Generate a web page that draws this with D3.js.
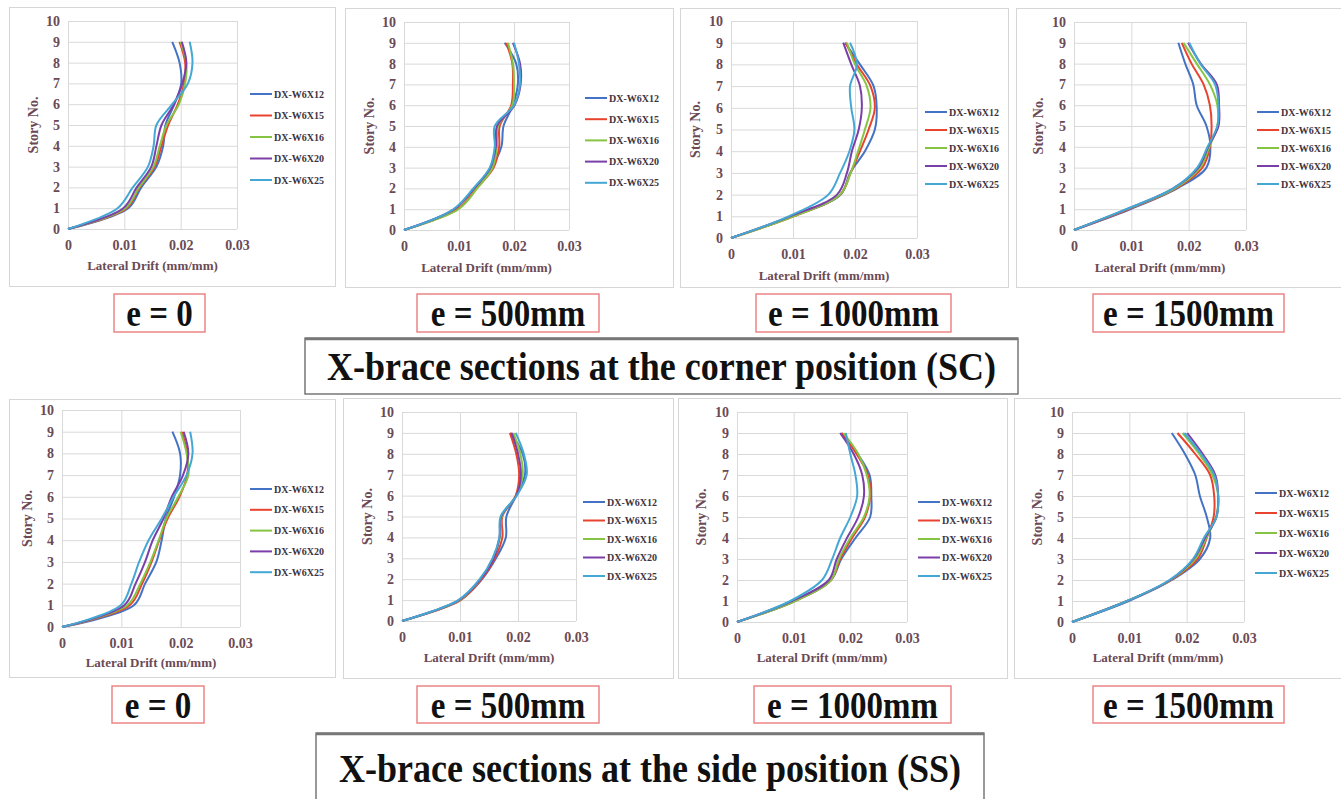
<!DOCTYPE html>
<html lang="en">
<head>
  <meta charset="UTF-8">
  <title>Lateral drift of X-brace sections</title>
  <style>
    body {
      margin: 0;
      background: #fff;
    }
    svg text {
      font-family: "Liberation Serif", "Times New Roman", serif;
      font-weight: bold;
    }
    .tick text { fill: #6b4a55; font-size: 14px; }
    .axis-title { fill: #6b4a55; font-size: 13px; }
    .axis-title.y { font-size: 14px; }
    .legend text { fill: #3d3340; font-size: 10px; }
    .case-label { fill: #111; font-size: 33px; }
    .group-title { fill: #111; font-size: 36px; }
  </style>
</head>
<body>
  <div id="chart"></div>

  <script src="https://d3js.org/d3.v7.min.js"></script>
  <script>
    const width = 1341;
    const height = 799;

    const stories = [0, 1, 2, 3, 4, 5, 6, 7, 8, 9];
    const seriesNames = ["DX-W6X12", "DX-W6X15", "DX-W6X16", "DX-W6X20", "DX-W6X25"];
    const seriesColors = ["#4472c4", "#e8432e", "#86c443", "#7a3fa8", "#45a8d4"];
    const xTicks = [0, 0.01, 0.02, 0.03];
    const yTicks = [0, 1, 2, 3, 4, 5, 6, 7, 8, 9, 10];
    const caseLabels = ["e = 0", "e = 500mm", "e = 1000mm", "e = 1500mm"];
    const groupTitles = ["X-brace sections at the corner position (SC)", "X-brace sections at the side position (SS)"];

    // drift (mm/mm) at story 0..9, one row per section
    const scE0 = [
      [0, 0.0107, 0.0130, 0.0157, 0.0169, 0.0173, 0.0189, 0.0201, 0.0198, 0.0185],
      [0, 0.0104, 0.0127, 0.0154, 0.0166, 0.0178, 0.0195, 0.0206, 0.0208, 0.0198],
      [0, 0.0102, 0.0126, 0.0152, 0.0163, 0.0175, 0.0197, 0.0208, 0.0210, 0.0200],
      [0, 0.0098, 0.0122, 0.0148, 0.0157, 0.0166, 0.0188, 0.0203, 0.0210, 0.0202],
      [0, 0.0088, 0.0115, 0.0142, 0.0152, 0.0157, 0.0185, 0.0213, 0.0221, 0.0216]
    ];
    const scE500 = [
      [0, 0.0091, 0.0128, 0.0159, 0.0177, 0.0181, 0.0198, 0.0207, 0.0204, 0.0183],
      [0, 0.0097, 0.0132, 0.0163, 0.0173, 0.0174, 0.0195, 0.0198, 0.0197, 0.0186],
      [0, 0.0099, 0.0133, 0.0161, 0.0169, 0.0171, 0.0197, 0.0200, 0.0198, 0.0189],
      [0, 0.0091, 0.0127, 0.0157, 0.0167, 0.0169, 0.0201, 0.0212, 0.0211, 0.0198],
      [0, 0.0090, 0.0126, 0.0156, 0.0165, 0.0165, 0.0200, 0.0211, 0.0209, 0.0200]
    ];
    const scE1000 = [
      [0, 0.0099, 0.0177, 0.0192, 0.0216, 0.0232, 0.0235, 0.0230, 0.0208, 0.0184],
      [0, 0.0101, 0.0176, 0.0193, 0.0208, 0.0222, 0.0232, 0.0225, 0.0203, 0.0185],
      [0, 0.0101, 0.0176, 0.0193, 0.0205, 0.0216, 0.0225, 0.0219, 0.0200, 0.0187],
      [0, 0.0095, 0.0171, 0.0187, 0.0195, 0.0206, 0.0211, 0.0208, 0.0194, 0.0181],
      [0, 0.0093, 0.0157, 0.0176, 0.0191, 0.0199, 0.0194, 0.0192, 0.0203, 0.0192]
    ];
    const scE1500 = [
      [0, 0.0098, 0.0180, 0.0231, 0.0238, 0.0231, 0.0214, 0.0208, 0.0194, 0.0182],
      [0, 0.0095, 0.0178, 0.0224, 0.0237, 0.0240, 0.0237, 0.0226, 0.0205, 0.0188],
      [0, 0.0093, 0.0176, 0.0220, 0.0236, 0.0250, 0.0250, 0.0237, 0.0214, 0.0191],
      [0, 0.0092, 0.0173, 0.0217, 0.0234, 0.0252, 0.0253, 0.0249, 0.0221, 0.0199],
      [0, 0.0091, 0.0173, 0.0215, 0.0233, 0.0250, 0.0252, 0.0246, 0.0220, 0.0201]
    ];
    const ssE0 = [
      [0, 0.0121, 0.0140, 0.0159, 0.0168, 0.0175, 0.0189, 0.0199, 0.0199, 0.0186],
      [0, 0.0114, 0.0135, 0.0151, 0.0164, 0.0178, 0.0198, 0.0211, 0.0211, 0.0202],
      [0, 0.0110, 0.0132, 0.0149, 0.0163, 0.0176, 0.0196, 0.0213, 0.0210, 0.0200],
      [0, 0.0105, 0.0124, 0.0140, 0.0153, 0.0171, 0.0185, 0.0204, 0.0213, 0.0205],
      [0, 0.0099, 0.0117, 0.0130, 0.0146, 0.0168, 0.0188, 0.0210, 0.0220, 0.0216]
    ];
    const ssE500 = [
      [0, 0.0100, 0.0138, 0.0162, 0.0179, 0.0180, 0.0197, 0.0212, 0.0208, 0.0187],
      [0, 0.0101, 0.0137, 0.0160, 0.0173, 0.0173, 0.0196, 0.0202, 0.0197, 0.0186],
      [0, 0.0099, 0.0135, 0.0157, 0.0169, 0.0172, 0.0197, 0.0208, 0.0204, 0.0192],
      [0, 0.0098, 0.0135, 0.0158, 0.0168, 0.0171, 0.0197, 0.0205, 0.0200, 0.0189],
      [0, 0.0097, 0.0134, 0.0156, 0.0168, 0.0170, 0.0198, 0.0215, 0.0210, 0.0196]
    ];
    const ssE1000 = [
      [0, 0.0102, 0.0166, 0.0184, 0.0209, 0.0235, 0.0237, 0.0234, 0.0213, 0.0184],
      [0, 0.0102, 0.0166, 0.0182, 0.0203, 0.0226, 0.0235, 0.0231, 0.0211, 0.0185],
      [0, 0.0103, 0.0166, 0.0180, 0.0200, 0.0224, 0.0234, 0.0229, 0.0214, 0.0188],
      [0, 0.0097, 0.0162, 0.0176, 0.0194, 0.0214, 0.0224, 0.0221, 0.0206, 0.0182],
      [0, 0.0094, 0.0150, 0.0168, 0.0182, 0.0200, 0.0212, 0.0209, 0.0200, 0.0192]
    ];
    const ssE1500 = [
      [0, 0.0099, 0.0174, 0.0223, 0.0241, 0.0235, 0.0223, 0.0215, 0.0197, 0.0174],
      [0, 0.0096, 0.0173, 0.0219, 0.0235, 0.0247, 0.0248, 0.0241, 0.0215, 0.0184],
      [0, 0.0096, 0.0172, 0.0215, 0.0234, 0.0251, 0.0255, 0.0245, 0.0222, 0.0193],
      [0, 0.0096, 0.0171, 0.0212, 0.0232, 0.0252, 0.0255, 0.0250, 0.0228, 0.0201],
      [0, 0.0096, 0.0170, 0.0211, 0.0230, 0.0252, 0.0255, 0.0248, 0.0225, 0.0196]
    ];

    // layout of the eight small charts (pixels)
    const panels = [
      { data: scE0,    box: [9, 7, 326, 279],    plot: [68, 21, 237, 229],    legend: [250, 94, 21.5],  yTitleX: 33,   xTitleY: 265 },
      { data: scE500,  box: [345, 8, 328, 279],  plot: [404, 22, 569, 230],   legend: [585, 98, 21.2],  yTitleX: 369,  xTitleY: 267 },
      { data: scE1000, box: [680, 8, 328, 279],  plot: [731, 21, 917, 238],   legend: [925, 112, 18],   yTitleX: 695,  xTitleY: 275 },
      { data: scE1500, box: [1016, 8, 330, 279], plot: [1074, 22, 1246, 230], legend: [1257, 112, 18],  yTitleX: 1038, xTitleY: 267 },
      { data: ssE0,    box: [9, 399, 326, 278],  plot: [62, 410, 240, 627],   legend: [250, 489, 20.8], yTitleX: 27,   xTitleY: 662 },
      { data: ssE500,  box: [343, 398, 330, 280], plot: [402, 412, 576, 621], legend: [583, 502, 18.5], yTitleX: 367,  xTitleY: 657 },
      { data: ssE1000, box: [678, 398, 329, 280], plot: [737, 412, 907, 622], legend: [918, 502, 18.5], yTitleX: 701,  xTitleY: 657 },
      { data: ssE1500, box: [1014, 398, 330, 280], plot: [1072, 412, 1244, 622], legend: [1255, 493, 20], yTitleX: 1037, xTitleY: 657 }
    ];
    const labelBoxes = [
      [114, 294, 91, 38], [417, 294, 182, 38], [756, 294, 195, 38], [1093, 294, 191, 38],
      [112, 686, 92, 37], [417, 686, 182, 37], [754, 686, 197, 37], [1093, 686, 191, 37]
    ];
    const titleBoxes = [[305, 338, 713, 56], [316, 733, 668, 80]];

    const svg = d3.select("#chart")
      .append("svg")
      .attr("width", width)
      .attr("height", height);

    panels.forEach((p) => {
      const g = svg.append("g");

      g.append("rect")
        .attr("x", p.box[0] + 0.5).attr("y", p.box[1] + 0.5)
        .attr("width", p.box[2]).attr("height", p.box[3])
        .attr("fill", "#fff")
        .attr("stroke", "#d6d6d6");

      const x = d3.scaleLinear().domain([0, 0.03]).range([p.plot[0], p.plot[2]]);
      const y = d3.scaleLinear().domain([0, 10]).range([p.plot[3], p.plot[1]]);

      // gridlines
      g.append("g")
        .attr("transform", `translate(0,${p.plot[3]})`)
        .call(d3.axisBottom(x).tickValues(xTicks).tickSize(-(p.plot[3] - p.plot[1])).tickFormat(""))
        .call(a => a.select(".domain").remove())
        .call(a => a.selectAll("line").attr("stroke", "#d9d9d9"));
      g.append("g")
        .attr("transform", `translate(${p.plot[0]},0)`)
        .call(d3.axisLeft(y).tickValues(yTicks).tickSize(-(p.plot[2] - p.plot[0])).tickFormat(""))
        .call(a => a.select(".domain").remove())
        .call(a => a.selectAll("line").attr("stroke", "#d9d9d9"));

      // tick labels
      g.append("g")
        .attr("transform", `translate(0,${p.plot[3]})`)
        .call(d3.axisBottom(x).tickValues(xTicks).tickSize(0).tickPadding(11).tickFormat(d => d === 0 ? "0" : d3.format(".2f")(d)))
        .call(a => a.select(".domain").remove());
      g.append("g")
        .attr("transform", `translate(${p.plot[0]},0)`)
        .call(d3.axisLeft(y).tickValues(yTicks).tickSize(0).tickPadding(8))
        .call(a => a.select(".domain").remove());

      g.append("text")
        .attr("class", "axis-title")
        .attr("x", (p.plot[0] + p.plot[2]) / 2)
        .attr("y", p.xTitleY)
        .attr("dy", "0.35em")
        .attr("text-anchor", "middle")
        .text("Lateral Drift (mm/mm)");
      g.append("text")
        .attr("class", "axis-title y")
        .attr("transform", `translate(${p.yTitleX},${(p.plot[1] + p.plot[3]) / 2}) rotate(-90)`)
        .attr("dy", "0.35em")
        .attr("text-anchor", "middle")
        .text("Story No.");

      const line = d3.line()
        .x(d => x(d[0]))
        .y(d => y(d[1]))
        .curve(d3.curveCatmullRom.alpha(0.5));

      p.data.forEach((vals, i) => {
        g.append("path")
          .datum(vals.map((v, k) => [v, stories[k]]))
          .attr("d", line)
          .attr("fill", "none")
          .attr("stroke", seriesColors[i])
          .attr("stroke-width", 2);
      });

      const leg = g.append("g").attr("class", "legend");
      seriesNames.forEach((name, i) => {
        const ly = p.legend[1] + i * p.legend[2];
        leg.append("line")
          .attr("x1", p.legend[0]).attr("x2", p.legend[0] + 22)
          .attr("y1", ly).attr("y2", ly)
          .attr("stroke", seriesColors[i])
          .attr("stroke-width", 2);
        leg.append("text")
          .attr("x", p.legend[0] + 24)
          .attr("y", ly)
          .attr("dy", "0.35em")
          .text(name);
      });
    });

    // the printed labels are a little taller than wide
    const stretch = 1.13;

    labelBoxes.forEach((b, i) => {
      svg.append("rect")
        .attr("x", b[0]).attr("y", b[1])
        .attr("width", b[2]).attr("height", b[3])
        .attr("fill", "#fff")
        .attr("stroke", "#ec8585")
        .attr("stroke-width", 1.5);
      svg.append("text")
        .attr("class", "case-label")
        .attr("transform", `translate(${b[0] + b[2] / 2},${b[1] + b[3] / 2}) scale(1,${stretch})`)
        .attr("dy", "0.35em")
        .attr("text-anchor", "middle")
        .text(caseLabels[i % 4]);
    });

    titleBoxes.forEach((b, i) => {
      svg.append("rect")
        .attr("x", b[0]).attr("y", b[1])
        .attr("width", b[2]).attr("height", b[3])
        .attr("fill", "#fff")
        .attr("stroke", "#555")
        .attr("stroke-width", 1.2);
      svg.append("line")
        .attr("x1", b[0]).attr("x2", b[0] + b[2])
        .attr("y1", b[1] + 1).attr("y2", b[1] + 1)
        .attr("stroke", "#777")
        .attr("stroke-width", 2.5);
      svg.append("text")
        .attr("class", "group-title")
        .attr("transform", `translate(${b[0] + b[2] / 2},${i === 0 ? b[1] + 28 : b[1] + 35}) scale(1,${stretch})`)
        .attr("dy", "0.35em")
        .attr("text-anchor", "middle")
        .text(groupTitles[i]);
    });
  </script>
</body>
</html>
